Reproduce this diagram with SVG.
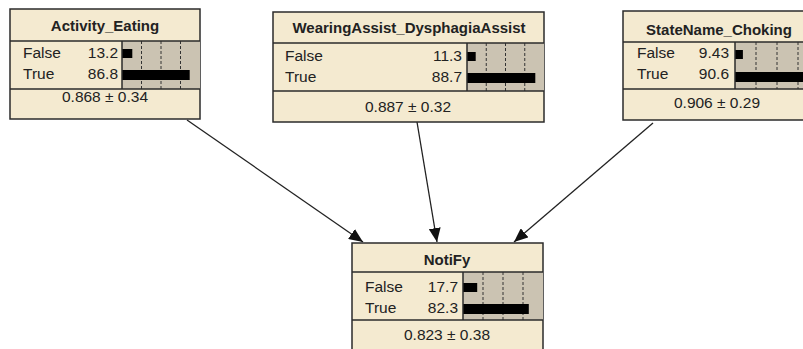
<svg xmlns="http://www.w3.org/2000/svg" width="803" height="349" viewBox="0 0 803 349">
<defs>
<style>
.box{fill:#f4ead0;stroke:#2b2b2b;stroke-width:1.5}
.div{stroke:#2b2b2b;stroke-width:1.5;fill:none}
.barbg{fill:#cbc3b2}
.tick{stroke:#333;stroke-width:1;stroke-dasharray:3,2}
.bar{fill:#000}
.title{font-family:"Liberation Sans",Arial,sans-serif;font-weight:bold;font-size:15px;fill:#222;text-anchor:middle}
.lbl{font-family:"Liberation Sans",Arial,sans-serif;font-size:15.5px;fill:#222}
.num{font-family:"Liberation Sans",Arial,sans-serif;font-size:15.5px;fill:#222;text-anchor:end}
.val{font-family:"Liberation Sans",Arial,sans-serif;font-size:15.5px;fill:#222;text-anchor:middle}
.edge{stroke:#222;stroke-width:1.3;fill:none;marker-end:url(#arr)}
</style>
<marker id="arr" markerUnits="userSpaceOnUse" markerWidth="14" markerHeight="12" viewBox="0 0 14 12" refX="14" refY="6" orient="auto">
<path d="M0,0 L14,6 L0,12 Z" fill="#111"/>
</marker>
</defs>
<rect width="803" height="349" fill="#ffffff"/>

<g id="connectors">
<line class="edge" x1="187" y1="120" x2="363" y2="242"/>
<line class="edge" x1="417" y1="122" x2="437" y2="242"/>
<line class="edge" x1="653" y1="123" x2="514" y2="242"/>
</g>

<g id="node-activity-eating">
<rect class="box" x="10" y="9" width="190" height="110"/>
<rect class="barbg" x="122" y="41" width="78" height="48"/>
<line class="tick" x1="141.5" y1="41" x2="141.5" y2="89"/>
<line class="tick" x1="161" y1="41" x2="161" y2="89"/>
<line class="tick" x1="180.5" y1="41" x2="180.5" y2="89"/>
<rect class="bar" x="122" y="49" width="10.3" height="9"/>
<rect class="bar" x="122" y="70" width="67.7" height="10"/>
<line class="div" x1="10" y1="41" x2="200" y2="41"/>
<line class="div" x1="10" y1="89" x2="200" y2="89"/>
<line class="div" x1="122" y1="41" x2="122" y2="89"/>
<text class="title" x="105" y="31">Activity_Eating</text>
<text class="lbl" x="23" y="58">False</text>
<text class="lbl" x="23" y="79">True</text>
<text class="num" x="118" y="58">13.2</text>
<text class="num" x="118" y="79">86.8</text>
<text class="val" x="105" y="102">0.868 ± 0.34</text>
</g>

<g id="node-wearingassist">
<rect class="box" x="273" y="12" width="271" height="110"/>
<rect class="barbg" x="467" y="43" width="77" height="48"/>
<line class="tick" x1="486.25" y1="43" x2="486.25" y2="91"/>
<line class="tick" x1="505.5" y1="43" x2="505.5" y2="91"/>
<line class="tick" x1="524.75" y1="43" x2="524.75" y2="91"/>
<rect class="bar" x="467" y="52" width="8.7" height="9"/>
<rect class="bar" x="467" y="73" width="68.3" height="10"/>
<line class="div" x1="273" y1="43" x2="544" y2="43"/>
<line class="div" x1="273" y1="91" x2="544" y2="91"/>
<line class="div" x1="467" y1="43" x2="467" y2="91"/>
<text class="title" x="409" y="33">WearingAssist_DysphagiaAssist</text>
<text class="lbl" x="285" y="61">False</text>
<text class="lbl" x="285" y="82">True</text>
<text class="num" x="462" y="61">11.3</text>
<text class="num" x="462" y="82">88.7</text>
<text class="val" x="408" y="112">0.887 ± 0.32</text>
</g>

<g id="node-statename-choking">
<rect class="box" x="623" y="11" width="196" height="109"/>
<rect class="barbg" x="735" y="42" width="84" height="47"/>
<line class="tick" x1="756" y1="42" x2="756" y2="89"/>
<line class="tick" x1="777" y1="42" x2="777" y2="89"/>
<line class="tick" x1="798" y1="42" x2="798" y2="89"/>
<rect class="bar" x="735" y="50" width="7.9" height="9"/>
<rect class="bar" x="735" y="72" width="76.1" height="10"/>
<line class="div" x1="623" y1="42" x2="819" y2="42"/>
<line class="div" x1="623" y1="89" x2="819" y2="89"/>
<line class="div" x1="735" y1="42" x2="735" y2="89"/>
<text class="title" x="719" y="35">StateName_Choking</text>
<text class="lbl" x="637" y="58">False</text>
<text class="lbl" x="637" y="79">True</text>
<text class="num" x="729" y="58">9.43</text>
<text class="num" x="729" y="79">90.6</text>
<text class="val" x="717" y="108">0.906 ± 0.29</text>
</g>

<g id="node-notify">
<rect class="box" x="352" y="243" width="191" height="110"/>
<rect class="barbg" x="463" y="272" width="80" height="48"/>
<line class="tick" x1="483" y1="272" x2="483" y2="320"/>
<line class="tick" x1="503" y1="272" x2="503" y2="320"/>
<line class="tick" x1="523" y1="272" x2="523" y2="320"/>
<rect class="bar" x="463" y="283" width="14.2" height="9"/>
<rect class="bar" x="463" y="304" width="65.8" height="10"/>
<line class="div" x1="352" y1="272" x2="543" y2="272"/>
<line class="div" x1="352" y1="320" x2="543" y2="320"/>
<line class="div" x1="463" y1="272" x2="463" y2="320"/>
<text class="title" x="447" y="265">NotiFy</text>
<text class="lbl" x="365" y="292">False</text>
<text class="lbl" x="365" y="313">True</text>
<text class="num" x="458" y="292">17.7</text>
<text class="num" x="458" y="313">82.3</text>
<text class="val" x="447" y="340">0.823 ± 0.38</text>
</g>
</svg>
